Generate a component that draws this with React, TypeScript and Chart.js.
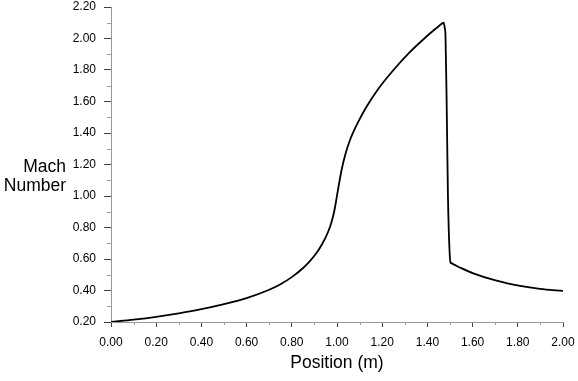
import React, { useEffect, useRef } from 'react';
import { Chart, registerables } from 'chart.js';

Chart.register(...registerables);

const positions = [
  0.0, 0.1, 0.2, 0.3, 0.4, 0.5, 0.6, 0.7, 0.75, 0.8, 0.85, 0.88, 0.91, 0.935,
  0.96, 0.975, 0.988, 0.998, 1.008, 1.021, 1.038, 1.06, 1.09, 1.13, 1.18, 1.25,
  1.32, 1.39, 1.44, 1.465, 1.472, 1.477, 1.48, 1.485, 1.491, 1.498, 1.503, 1.506,
  1.52, 1.55, 1.603, 1.706, 1.81, 1.898, 2.0,
];
const machNumbers = [
  0.2, 0.215, 0.233, 0.255, 0.281, 0.313, 0.352, 0.405, 0.44, 0.485, 0.543, 0.587,
  0.64, 0.697, 0.77, 0.83, 0.905, 0.985, 1.07, 1.17, 1.27, 1.365, 1.46, 1.565,
  1.675, 1.8, 1.91, 2.005, 2.066, 2.095, 2.1, 2.065, 2.02, 1.61, 0.996, 0.65,
  0.575, 0.573, 0.563, 0.542, 0.509, 0.462, 0.429, 0.41, 0.397,
];
const xMinorTicks = [0.1, 0.3, 0.5, 0.7, 0.9, 1.1, 1.3, 1.5, 1.7, 1.9];
const yMinorTicks = [0.3, 0.5, 0.7, 0.9, 1.1, 1.3, 1.5, 1.7, 1.9, 2.1];
const xTitle = 'Position (m)';
const yTitleLines = ['Mach', 'Number'];

const FONT = "'Liberation Sans', Arial, sans-serif";

export default function App() {
  const ref = useRef<HTMLCanvasElement | null>(null);

  useEffect(() => {
    if (!ref.current) return;
    const minorTicks = {
      id: 'minorTicks',
      afterDraw(chart: any) {
        const { ctx, chartArea, scales } = chart;
        const x = scales.x;
        const y = scales.y;
        ctx.save();
        ctx.strokeStyle = '#a0a0a0';
        ctx.lineWidth = 1;
        ctx.beginPath();
        for (const v of xMinorTicks) {
          const px = Math.round(x.getPixelForValue(v)) + 0.5;
          ctx.moveTo(px, chartArea.bottom);
          ctx.lineTo(px, chartArea.bottom + 3);
        }
        for (const v of yMinorTicks) {
          const py = Math.round(y.getPixelForValue(v)) + 0.5;
          ctx.moveTo(chartArea.left, py);
          ctx.lineTo(chartArea.left - 4, py);
        }
        ctx.stroke();
        ctx.fillStyle = '#000';
        ctx.font = `17.5px ${FONT}`;
        ctx.textAlign = 'right';
        ctx.textBaseline = 'middle';
        ctx.fillText(yTitleLines[0], 66, 167);
        ctx.fillText(yTitleLines[1], 66, 186);
        ctx.restore();
      },
    };

    const chart = new Chart(ref.current, {
      type: 'line',
      data: {
        datasets: [
          {
            data: positions.map((p, i) => ({ x: p, y: machNumbers[i] })),
            borderColor: '#000',
            borderWidth: 1.8,
            pointRadius: 0,
            fill: false,
            cubicInterpolationMode: 'monotone',
          },
        ],
      },
      options: {
        responsive: false,
        animation: false,
        layout: { padding: { left: 0, right: 15, top: 7, bottom: 0 } },
        plugins: { legend: { display: false }, tooltip: { enabled: false } },
        scales: {
          x: {
            type: 'linear',
            min: 0,
            max: 2,
            ticks: {
              stepSize: 0.2,
              callback: (v: any) => Number(v).toFixed(2),
              font: { family: FONT, size: 12 },
              color: '#000',
              padding: 8,
              maxRotation: 0,
            },
            grid: { drawOnChartArea: false, drawTicks: true, tickLength: 5, tickColor: '#404040' },
            border: { display: true, color: '#999' },
            title: {
              display: true,
              text: xTitle,
              font: { family: FONT, size: 17.5 },
              color: '#000',
              padding: { top: 0, bottom: 7 },
            },
            afterFit: (s: any) => {
              s.height = 59;
              s.paddingLeft = 0;
              s.paddingRight = 0;
            },
          },
          y: {
            type: 'linear',
            min: 0.2,
            max: 2.2,
            ticks: {
              stepSize: 0.2,
              callback: (v: any) => Number(v).toFixed(2),
              font: { family: FONT, size: 12 },
              color: '#000',
              padding: 8,
            },
            grid: { drawOnChartArea: false, drawTicks: true, tickLength: 7, tickColor: '#404040' },
            border: { display: true, color: '#999' },
            afterFit: (s: any) => {
              s.width = 111;
              s.paddingTop = 0;
              s.paddingBottom = 0;
            },
          },
        },
      },
      plugins: [minorTicks],
    } as any);
    return () => chart.destroy();
  }, []);

  return (
    <div style={{ position: 'absolute', left: 0, top: 0, width: 578, height: 381, background: '#fff' }}>
      <canvas ref={ref} width={578} height={381} style={{ display: 'block' }} />
    </div>
  );
}
